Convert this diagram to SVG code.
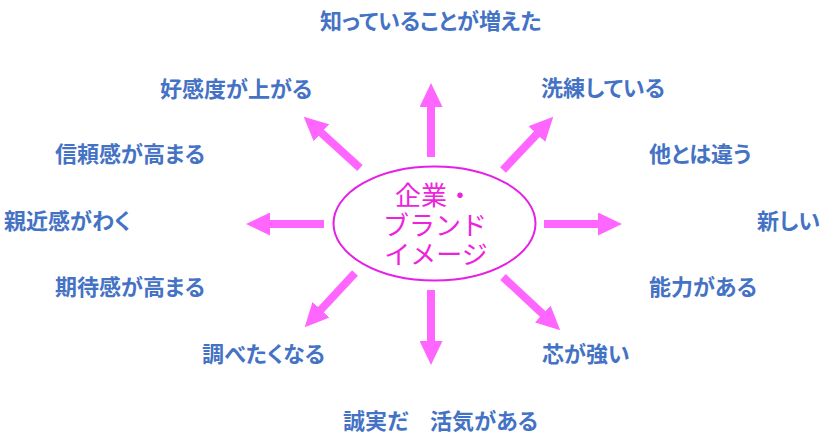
<svg xmlns="http://www.w3.org/2000/svg" width="825" height="443" viewBox="0 0 825 443">
<style>
.lbl{font-family:"Noto Sans CJK JP","Noto Sans CJK SC",sans-serif;font-size:22px;font-weight:bold;fill:#4472c4;font-feature-settings:"palt";}
.ctr{font-family:"Noto Sans CJK JP","Noto Sans CJK SC",sans-serif;font-size:26px;fill:#ee22dd;text-anchor:middle;}
.arr{stroke:#ff66ff;stroke-width:8;fill:none;marker-end:url(#head);}
</style>
<defs>
<marker id="head" markerUnits="userSpaceOnUse" markerWidth="24" markerHeight="23" viewBox="0 0 24 23" refX="1" refY="11.5" orient="auto">
<path d="M0,0 L24,11.5 L0,23 Z" fill="#ff66ff"/>
</marker>
</defs>
<rect width="825" height="443" fill="#ffffff"/>
<g id="connectors">
<line class="arr" x1="431" y1="157" x2="431" y2="106"/>
<line class="arr" x1="431" y1="290" x2="431" y2="342"/>
<line class="arr" x1="324" y1="224" x2="269" y2="224"/>
<line class="arr" x1="544" y1="224" x2="599" y2="224"/>
<line class="arr" x1="360" y1="168" x2="320.7" y2="132.2"/>
<line class="arr" x1="503" y1="170" x2="537.5" y2="133.4"/>
<line class="arr" x1="355" y1="273" x2="320.3" y2="310.4"/>
<line class="arr" x1="503" y1="277" x2="543.4" y2="314.6"/>
</g>
<g id="center">
<ellipse cx="434.5" cy="223.5" rx="101" ry="57" fill="#ffffff" stroke="#e61ee6" stroke-width="2"/>
<text class="ctr"><tspan x="434" y="205">企業・</tspan><tspan x="435" y="235">ブランド</tspan><tspan x="436" y="264">イメージ</tspan></text>
</g>
<g id="n1"><text class="lbl" x="320" y="28.5">知っていることが増えた</text></g>
<g id="n2"><text class="lbl" x="160" y="96.5">好感度が上がる</text></g>
<g id="n3"><text class="lbl" x="541" y="96">洗練している</text></g>
<g id="n4"><text class="lbl" x="55" y="161.5">信頼感が高まる</text></g>
<g id="n5"><text class="lbl" x="649" y="161.5">他とは違う</text></g>
<g id="n6"><text class="lbl" x="4" y="228.5">親近感がわく</text></g>
<g id="n7"><text class="lbl" x="757" y="228.5">新しい</text></g>
<g id="n8"><text class="lbl" x="55" y="295">期待感が高まる</text></g>
<g id="n9"><text class="lbl" x="649" y="294.5">能力がある</text></g>
<g id="n10"><text class="lbl" x="202" y="361.5">調べたくなる</text></g>
<g id="n11"><text class="lbl" x="542" y="362">芯が強い</text></g>
<g id="n12"><text class="lbl" x="343" y="428.5">誠実だ　活気がある</text></g>
</svg>
